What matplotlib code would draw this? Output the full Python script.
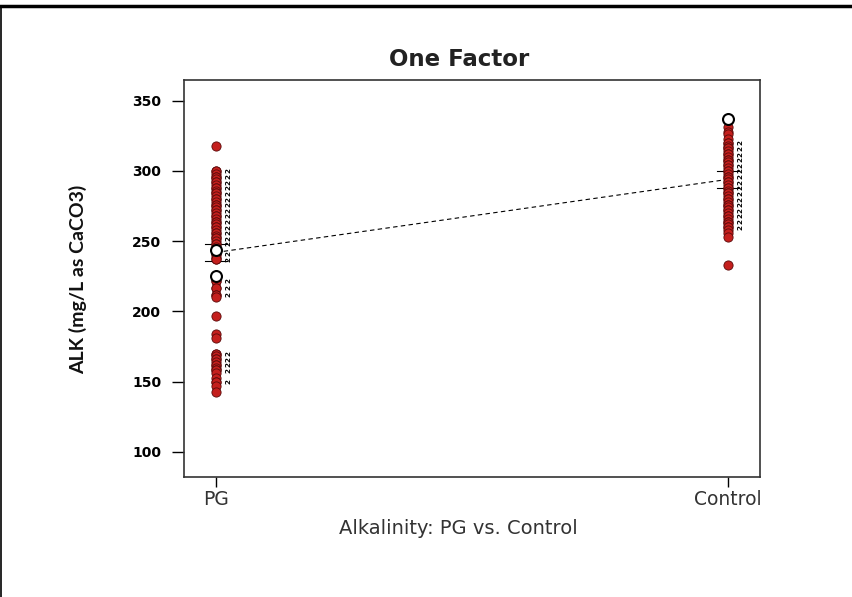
import matplotlib
matplotlib.use("Agg")
import matplotlib.pyplot as plt
from matplotlib.lines import Line2D
from collections import Counter

# Groups and their x positions
groups = ["PG", "Control"]
group_pos = [1, 2]

# Alkalinity observations (mg/L as CaCO3); repeated values are ties
pg_values = [318, 300, 300, 298, 296, 296, 294, 292, 292, 290, 288, 288, 286, 284,
             284, 282, 280, 280, 278, 276, 276, 274, 272, 272, 270, 268, 268, 266,
             264, 264, 262, 260, 260, 258, 256, 256, 254, 252, 252, 250, 248, 248,
             246, 244, 241, 241, 239, 237, 237, 222, 222, 217, 217, 212, 212, 210,
             197, 184, 181, 170, 170, 168, 166, 166, 164, 162, 162, 160, 158, 158,
             156, 153, 150, 150, 147, 143]
control_values = [331, 328, 326, 323, 320, 320, 318, 316, 316, 314, 312, 312, 310,
                  308, 308, 306, 304, 304, 302, 300, 300, 298, 296, 296, 294, 292,
                  292, 290, 288, 288, 286, 284, 284, 282, 280, 280, 278, 276, 276,
                  274, 272, 272, 270, 268, 268, 266, 264, 264, 262, 260, 260, 258,
                  256, 253, 233]

# Flagged observations (open symbols)
pg_flagged = [244, 225]
control_flagged = [337]

# Fitted group means and their interval half-width
group_means = [242, 294]
interval_half = 6

yticks = [100, 150, 200, 250, 300, 350]

fig = plt.figure(figsize=(8.52, 5.97), dpi=100)
ax = fig.add_axes([184 / 852, 1 - 477 / 597, 576 / 852, 397 / 597])

red = "#c41f1d"
for i, (pos, vals, flagged) in enumerate([(group_pos[0], pg_values, pg_flagged),
                                          (group_pos[1], control_values, control_flagged)]):
    ax.scatter([pos] * len(vals), vals, s=44, color=red, edgecolor="#5a0a0a",
               linewidth=0.6, zorder=3)
    ax.scatter([pos] * len(flagged), flagged, s=62, facecolor="white",
               edgecolor="black", linewidth=1.5, zorder=4)
    # tie counts written beside the points
    for v, c in Counter(vals).items():
        if c > 1:
            ax.text(pos + 0.025, v, str(c), rotation=90, fontsize=5.2,
                    fontweight="heavy", ha="center", va="center", zorder=2)
    # interval ticks around the mean
    m = group_means[i]
    for y in (m - interval_half, m + interval_half):
        ax.plot([pos - 0.022, pos + 0.022], [y, y], color="black", lw=0.8, zorder=2)

ax.plot(group_pos, group_means, linestyle=(0, (4, 3)), color="black", lw=0.8, zorder=1)

ax.set_xlim(0.9375, 2.0625)
ax.set_ylim(82.2, 364.7)
ax.set_xticks(group_pos)
ax.set_xticklabels(groups, fontsize=13.5, color="#333333")
ax.set_yticks(yticks)
ax.set_yticklabels([str(t) for t in yticks], fontsize=10, fontweight="bold")
ax.tick_params(axis="y", length=8.5, width=1, pad=8)
ax.tick_params(axis="x", length=7, width=1, pad=2.5)
for s in ax.spines.values():
    s.set_linewidth(1.2)
    s.set_color("#333333")

fig.text(459 / 852, 1 - 60 / 597, "One Factor", ha="center", va="center",
         fontsize=16.5, fontweight="bold", color="#222222")
fig.text(78 / 852, 1 - 279 / 597, "ALK (mg/L as CaCO3)", rotation=90,
         ha="center", va="center", fontsize=14, family="Lato", fontweight="bold",
         color="#111111")
fig.text(458 / 852, 1 - 528 / 597, "Alkalinity: PG vs. Control", ha="center",
         va="center", fontsize=14, color="#333333")

# frame lines along the top and left edges of the figure
fig.add_artist(Line2D([0, 1], [1 - 5.5 / 597] * 2, transform=fig.transFigure,
                      color="black", lw=2.5))
fig.add_artist(Line2D([0.6 / 852] * 2, [0, 1 - 5.5 / 597], transform=fig.transFigure,
                      color="black", lw=1.2))

fig.savefig("out.png", dpi=100, facecolor="white")
